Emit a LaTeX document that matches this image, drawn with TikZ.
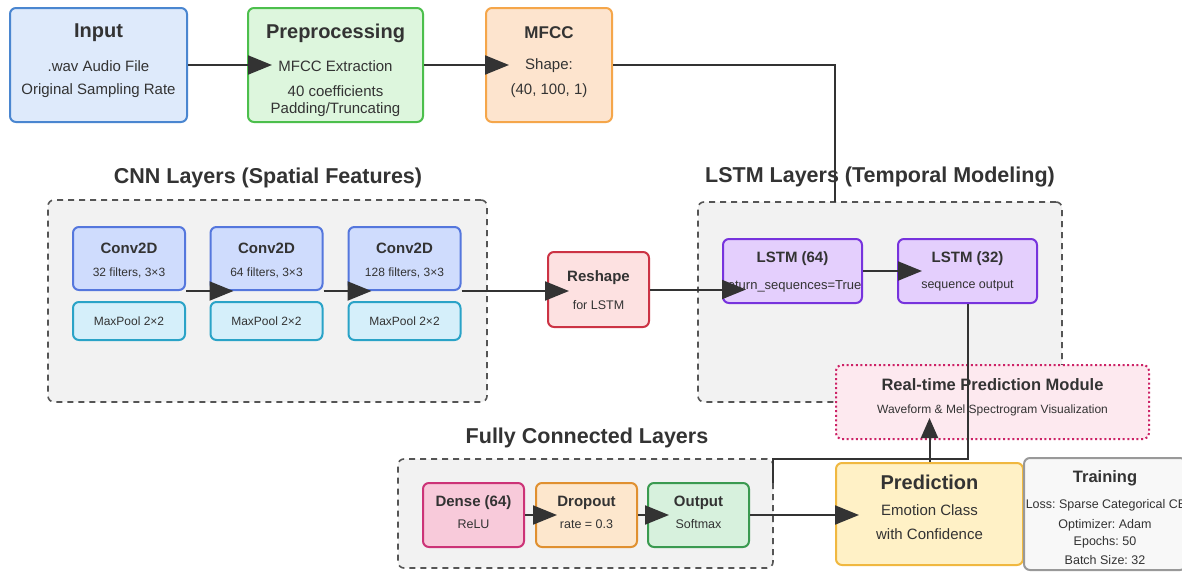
\documentclass[tikz,border=0pt]{standalone}
\usepackage{fontspec}
\setmainfont{Liberation Sans}
\usetikzlibrary{arrows.meta,calc}
\frenchspacing
\definecolor{txt}{HTML}{333333}
\definecolor{grpfill}{HTML}{F2F2F2}
\definecolor{grpline}{HTML}{555555}
\definecolor{inF}{HTML}{DEEAFB}\definecolor{inD}{HTML}{4A86D0}
\definecolor{prF}{HTML}{DDF6DD}\definecolor{prD}{HTML}{4CBF4C}
\definecolor{mfF}{HTML}{FDE4CE}\definecolor{mfD}{HTML}{F5A64A}
\definecolor{cvF}{HTML}{CFDCFD}\definecolor{cvD}{HTML}{5577DD}
\definecolor{mpF}{HTML}{D5EFFA}\definecolor{mpD}{HTML}{2AA3C7}
\definecolor{rsF}{HTML}{FDE1E1}\definecolor{rsD}{HTML}{CC3344}
\definecolor{lsF}{HTML}{E4CFFD}\definecolor{lsD}{HTML}{7733DD}
\definecolor{rtF}{HTML}{FDE9EF}\definecolor{rtD}{HTML}{CC2266}
\definecolor{dnF}{HTML}{F8CADA}\definecolor{dnD}{HTML}{CC3377}
\definecolor{doF}{HTML}{FDE7CD}\definecolor{doD}{HTML}{E09030}
\definecolor{ouF}{HTML}{D7F1DD}\definecolor{ouD}{HTML}{3A9A50}
\definecolor{pdF}{HTML}{FFF1C6}\definecolor{pdD}{HTML}{F0B840}
\definecolor{trF}{HTML}{F8F8F8}\definecolor{trD}{HTML}{999999}
\begin{document}
\begin{tikzpicture}[x=1pt,y=1pt,
  box/.style={draw, rounded corners=6pt, line width=2pt, inner sep=0pt},
  grp/.style={draw=grpline, fill=grpfill, dash pattern=on 6pt off 5pt, line width=1.6pt, rounded corners=6pt, inner sep=0pt},
  tb/.style={font=\fontsize{#1}{#1}\selectfont\bfseries, text=txt, inner sep=0pt},
  tn/.style={font=\fontsize{#1}{#1}\selectfont, text=txt, inner sep=0pt},
  conn/.style={draw=txt, line width=2pt, -{Triangle[length=24pt,width=19pt]}},
  plain/.style={draw=txt, line width=2pt}]
\useasboundingbox (0,0) rectangle (1182,-571);
\clip (0,0) rectangle (1182,-571);
\fill[white] (0,0) rectangle (1182,-571);

% top row
\node[box, fill=inF, draw=inD, minimum width=177pt, minimum height=114pt] (in) at (98.5,-65) {};
\node[tb=20] (inT) at (98.5,-33) {Input};
\node[tn=15] (inA) at (98.5,-66) {.wav Audio File};
\node[tn=15] (inB) at (98.5,-91) {Original Sampling Rate};

\node[box, fill=prF, draw=prD, minimum width=175pt, minimum height=114pt] (pre) at (335.5,-65) {};
\node[tb=20] (preT) at (335.5,-33) {Preprocessing};
\node[tn=15] (preA) at (335.5,-66) {MFCC Extraction};
\node[tn=15] (preB) at (335.5,-91) {40 coefficients};
\node[tn=15] (preC) at (335.5,-110) {Padding/Truncating};

\node[box, fill=mfF, draw=mfD, minimum width=126pt, minimum height=114pt] (mf) at (549,-65) {};
\node[tb=17] (mfT) at (549,-33) {MFCC};
\node[tn=15] (mfA) at (549,-66) {Shape:};
\node[tn=15] (mfB) at (549,-91) {(40, 100, 1)};

% CNN group
\node[grp, minimum width=439pt, minimum height=202pt] (cnn) at (267.5,-301) {};
\node[tb=21.5] (cnnT) at (268,-178) {CNN Layers (Spatial Features)};
\foreach \n/\x/\f in {c1/129/32, c2/266.5/64, c3/404.5/128}{
  \node[box, fill=cvF, draw=cvD, minimum width=112pt, minimum height=63pt] (\n) at (\x,-258.5) {};
  \node[tb=15] (\n T) at (\x,-248) {Conv2D};
  \node[tn=12] (\n S) at (\x,-273) {\f\ filters, 3×3};
  \node[box, fill=mpF, draw=mpD, minimum width=112pt, minimum height=38pt] (\n p) at (\x,-321) {};
  \node[tn=12] (\n pT) at (\x,-321) {MaxPool 2×2};
}

% Reshape
\node[box, fill=rsF, draw=rsD, minimum width=101pt, minimum height=75pt] (rs) at (598.5,-289.5) {};
\node[tb=15] (rsT) at (598.5,-278) {Reshape};
\node[tn=12.5] (rsS) at (598.5,-305) {for LSTM};

% LSTM group
\node[grp, minimum width=364pt, minimum height=200pt] (lstm) at (880,-302) {};
\node[tb=21.5] (lstmT) at (880,-177) {LSTM Layers (Temporal Modeling)};
\node[box, fill=lsF, draw=lsD, minimum width=139pt, minimum height=64pt] (l64) at (792.5,-271) {};
\node[tb=15] (l64T) at (792.5,-259) {LSTM (64)};
\node[tn=13] (l64S) at (792.5,-286) {return\_sequences=True};
\node[box, fill=lsF, draw=lsD, minimum width=139pt, minimum height=64pt] (l32) at (967.5,-271) {};
\node[tb=15] (l32T) at (967.5,-259) {LSTM (32)};
\node[tn=12.5] (l32S) at (967.5,-286) {sequence output};

% Real-time module
\node[draw=rtD, fill=rtF, line width=2pt, dash pattern=on 2pt off 2.6pt, rounded corners=6pt, minimum width=313pt, minimum height=74pt, inner sep=0pt] (rt) at (992.5,-402) {};
\node[tb=16.5] (rtT) at (992.5,-385) {Real-time Prediction Module};
\node[tn=12] (rtS) at (992.5,-410) {Waveform \& Mel Spectrogram Visualization};

% FC group
\node[grp, minimum width=375pt, minimum height=109pt] (fc) at (585.5,-513.5) {};
\node[tb=21.5] (fcT) at (587,-438) {Fully Connected Layers};
\node[box, fill=dnF, draw=dnD, minimum width=101pt, minimum height=64pt] (d1) at (473.5,-515) {};
\node[tb=15] (d1T) at (473.5,-503) {Dense (64)};
\node[tn=12.5] (d1S) at (473.5,-524) {ReLU};
\node[box, fill=doF, draw=doD, minimum width=101pt, minimum height=64pt] (d2) at (586.5,-515) {};
\node[tb=15] (d2T) at (586.5,-503) {Dropout};
\node[tn=12.5] (d2S) at (586.5,-524) {rate = 0.3};
\node[box, fill=ouF, draw=ouD, minimum width=101pt, minimum height=64pt] (d3) at (698.5,-515) {};
\node[tb=15] (d3T) at (698.5,-503) {Output};
\node[tn=12.5] (d3S) at (698.5,-524) {Softmax};

% Prediction
\node[box, fill=pdF, draw=pdD, minimum width=187pt, minimum height=102pt] (pred) at (929.5,-514) {};
\node[tb=20] (predT) at (929.5,-482) {Prediction};
\node[tn=15] (predA) at (929.5,-510) {Emotion Class};
\node[tn=15] (predB) at (929.5,-534) {with Confidence};

% Training
\node[box, fill=trF, draw=trD, minimum width=162pt, minimum height=112pt] (tr) at (1105,-514) {};
\node[tb=16.5] (trT) at (1105,-478) {Training};
\node[tn=12.5] (trA) at (1106,-505) {Loss: Sparse Categorical CE};
\node[tn=12.5] (trB) at (1105,-525) {Optimizer: Adam};
\node[tn=12.5] (trC) at (1105,-542) {Epochs: 50};
\node[tn=12.5] (trD) at (1105,-560) {Batch Size: 32};

% connectors
\coordinate (lstmIn) at (835,-202);
\coordinate (fcA) at (773,-459);
\coordinate (fcB) at (773,-483);
\draw[conn] (in.east) -- ($(pre.west)+(25,0)$);
\draw[conn] (pre.east) -- ($(mf.west)+(24,0)$);
\draw[plain] (mf.east) -| (lstmIn);
\draw[conn] (c1.south east) -- ($(c2.south west)+(24,0)$);
\draw[conn] (c2.south east) -- ($(c3.south west)+(24,0)$);
\draw[conn] (c3.south east) -- ($(rs.west |- c3.south east)+(22,0)$);
\draw[conn] (rs.east) -- ($(l64.west |- rs.east)+(24,0)$);
\draw[conn] (l64.east) -- ($(l32.west)+(25,0)$);
\draw[plain] (l32.south) |- (fcA) -- (fcB);
\draw[conn] (d1.east) -- ($(d2.west)+(22,0)$);
\draw[conn] (d2.east) -- ($(d3.west)+(22,0)$);
\draw[conn] (d3.east) -- ($(pred.west |- d3.east)+(24,0)$);
\draw[draw=txt, line width=2pt, -{Triangle[length=20pt,width=17pt]}] (pred.north) -- ($(pred.north |- rt.south)+(0,22)$);
\end{tikzpicture}
\end{document}
